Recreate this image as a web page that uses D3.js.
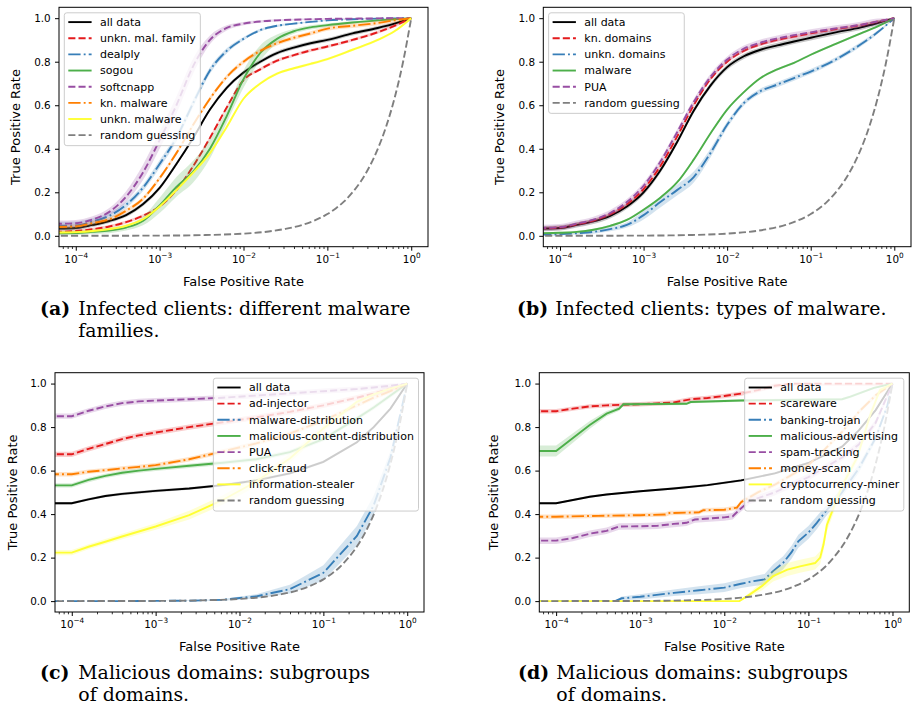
<!DOCTYPE html>
<html><head><meta charset="utf-8">
<script src="https://cdn.jsdelivr.net/npm/d3@7"></script>
<style>body{margin:0;background:#fff} svg{display:block;background:#fff}</style>
</head><body>
<svg id="c" width="912" height="707"></svg>
<script>
// ---------------- DATA (FPR given as log10 exponents, TPR as fractions) ----------------
// Panel (a)
const gridA = [-4.25,-4.0,-3.8,-3.6,-3.4,-3.2,-3.0,-2.8,-2.6,-2.4,-2.2,-2.0,-1.8,-1.6,-1.4,-1.2,-1.0,-0.7,-0.4,-0.2,0];
const aAllData   = [0.033,0.036,0.05,0.068,0.095,0.145,0.22,0.33,0.45,0.58,0.68,0.75,0.80,0.84,0.865,0.885,0.90,0.93,0.955,0.975,1.0];
const aUnknFam   = [0.018,0.022,0.03,0.043,0.063,0.092,0.135,0.21,0.32,0.45,0.59,0.715,0.765,0.805,0.83,0.852,0.87,0.9,0.935,0.965,1.0];
const aDealply   = [0.046,0.048,0.066,0.092,0.142,0.22,0.33,0.45,0.61,0.76,0.85,0.905,0.945,0.965,0.975,0.983,0.99,0.995,0.998,0.999,1.0];
const aSogou     = [0.012,0.013,0.018,0.024,0.038,0.068,0.14,0.225,0.295,0.40,0.55,0.72,0.84,0.905,0.94,0.958,0.968,0.98,0.99,0.995,1.0];
const aSoftcnapp = [0.055,0.058,0.075,0.11,0.18,0.29,0.44,0.60,0.78,0.90,0.955,0.975,0.985,0.99,0.993,0.995,0.997,0.998,0.999,1.0,1.0];
const aKnMalware = [0.04,0.043,0.058,0.076,0.115,0.17,0.265,0.38,0.51,0.63,0.73,0.80,0.85,0.885,0.91,0.93,0.952,0.965,0.978,0.99,1.0];
const aUnknMal   = [0.015,0.017,0.022,0.031,0.046,0.076,0.135,0.21,0.29,0.38,0.5,0.63,0.70,0.745,0.77,0.79,0.812,0.855,0.9,0.94,1.0];
const aSogouBand = [0.01,0.01,0.01,0.012,0.014,0.02,0.035,0.045,0.05,0.045,0.03,0.04,0.035,0.02,0.012,0.01,0.008,0.006,0.005,0.004,0];
const aSoftBand  = [0.015,0.015,0.015,0.018,0.025,0.035,0.04,0.04,0.035,0.02,0.012,0.008,0.006,0.005,0.004,0.003,0.003,0.002,0.002,0.001,0];
const aDealBand  = [0.018,0.018,0.015,0.015,0.015,0.015,0.018,0.018,0.018,0.015,0.012,0.008,0.006,0.005,0.004,0.003,0.003,0.002,0.002,0.001,0];
const aLabels = ['all data','unkn. mal. family','dealply','sogou','softcnapp','kn. malware','unkn. malware','random guessing'];

// Panel (b)
const gridB = [-4.25,-4.0,-3.8,-3.6,-3.4,-3.2,-3.0,-2.8,-2.6,-2.4,-2.2,-2.0,-1.8,-1.6,-1.4,-1.2,-1.0,-0.7,-0.4,-0.2,0];
const bAllData  = [0.033,0.036,0.05,0.066,0.092,0.135,0.2,0.3,0.43,0.575,0.69,0.775,0.825,0.855,0.875,0.893,0.91,0.935,0.958,0.978,1.0];
const bKnDom    = [0.035,0.038,0.053,0.07,0.1,0.145,0.215,0.32,0.455,0.6,0.72,0.8,0.85,0.88,0.9,0.915,0.93,0.95,0.968,0.984,1.0];
const bUnknDom  = [0.006,0.008,0.012,0.018,0.031,0.05,0.095,0.155,0.21,0.27,0.38,0.51,0.61,0.665,0.695,0.725,0.755,0.81,0.88,0.935,1.0];
const bMalware  = [0.012,0.014,0.018,0.028,0.046,0.073,0.12,0.175,0.245,0.35,0.47,0.58,0.66,0.725,0.765,0.795,0.832,0.882,0.93,0.962,1.0];
const bPUA      = [0.036,0.04,0.056,0.074,0.105,0.155,0.23,0.34,0.475,0.615,0.73,0.81,0.86,0.888,0.907,0.922,0.935,0.953,0.97,0.985,1.0];
const bUnknBand = [0.006,0.006,0.006,0.008,0.01,0.012,0.02,0.025,0.025,0.025,0.02,0.015,0.012,0.012,0.012,0.012,0.012,0.01,0.01,0.008,0];
const bLabels = ['all data','kn. domains','unkn. domains','malware','PUA','random guessing'];

// Panel (c)
const gridC = [-4.3,-4.0,-3.8,-3.6,-3.4,-3.2,-3.0,-2.6,-2.2,-1.8,-1.4,-1.0,-0.6,-0.4,-0.2,0];
const cAllData    = [0.45,0.45,0.468,0.483,0.493,0.5,0.507,0.518,0.533,0.555,0.587,0.64,0.73,0.8,0.885,1.0];
const cAdInjector = [0.675,0.675,0.70,0.722,0.745,0.762,0.775,0.8,0.822,0.845,0.87,0.9,0.935,0.954,0.977,1.0];
const cMalDist    = [0,0,0,0,0,0.0005,0.001,0.002,0.006,0.022,0.055,0.13,0.3,0.44,0.66,1.0];
const cMalContent = [0.532,0.532,0.557,0.576,0.59,0.6,0.608,0.622,0.636,0.652,0.685,0.745,0.84,0.89,0.945,1.0];
const cPUA        = [0.85,0.85,0.875,0.895,0.91,0.918,0.922,0.928,0.935,0.945,0.955,0.965,0.975,0.982,0.99,1.0];
const cClickFraud = [0.583,0.583,0.595,0.602,0.61,0.617,0.625,0.652,0.688,0.725,0.77,0.83,0.9,0.935,0.965,1.0];
const cInfoSteal  = [0.223,0.223,0.25,0.273,0.297,0.32,0.343,0.395,0.465,0.55,0.656,0.794,0.916,0.95,0.977,1.0];
const cMalDistBand = [0,0,0,0,0,0,0.001,0.002,0.004,0.01,0.02,0.035,0.045,0.045,0.03,0];
const cInfoBand    = [0.012,0.012,0.012,0.012,0.013,0.014,0.015,0.02,0.022,0.022,0.02,0.015,0.01,0.008,0.005,0];
const cLabels = ['all data','ad-injector','malware-distribution','malicious-content-distribution','PUA','click-fraud','information-stealer','random guessing'];

// Panel (d)
const dAllFpr   = [-4.3,-4.0,-3.8,-3.6,-3.4,-3.0,-2.6,-2.2,-1.8,-1.4,-1.0,-0.6,-0.4,-0.2,0];
const dAllData  = [0.45,0.45,0.465,0.48,0.49,0.505,0.518,0.533,0.555,0.587,0.635,0.71,0.785,0.878,1.0];
const dScareFpr = [-4.3,-4.0,-3.8,-3.6,-3.4,-3.0,-2.6,-2.4,-2.2,-2.0,-1.8,-1.6,-1.4,-1.2,0];
const dScareware= [0.873,0.873,0.885,0.895,0.9,0.905,0.913,0.928,0.934,0.943,0.954,0.97,0.99,1.0,1.0];
const dBankFpr  = [-4.3,-3.3,-3.22,-3.0,-2.6,-2.3,-2.0,-1.8,-1.65,-1.52,-1.42,-1.3,-1.2,-1.12,-1.0,-0.9,-0.8,-0.6,-0.4,-0.2,-0.06,0];
const dBanking  = [0,0,0.013,0.02,0.038,0.05,0.062,0.08,0.092,0.1,0.138,0.176,0.225,0.275,0.315,0.36,0.41,0.5,0.61,0.75,0.9,1.0];
const dBankBand = [0,0,0.008,0.012,0.015,0.018,0.02,0.02,0.022,0.025,0.03,0.03,0.03,0.03,0.03,0.03,0.025,0.02,0.02,0.015,0.01,0];
const dAdvFpr   = [-4.3,-4.0,-3.8,-3.6,-3.4,-3.25,-3.2,-2.45,-2.4,-1.8,-1.0,-0.6,-0.5,-0.22,0];
const dMalAdv   = [0.69,0.69,0.75,0.81,0.862,0.885,0.905,0.907,0.915,0.922,0.926,0.928,0.94,0.98,1.0];
const dAdvBand  = [0.025,0.025,0.022,0.018,0.012,0.01,0.008,0.006,0.006,0.006,0.006,0.006,0.006,0.005,0];
const dSpamFpr  = [-4.3,-4.0,-3.8,-3.6,-3.4,-3.25,-3.0,-2.8,-2.6,-2.45,-2.35,-2.0,-1.9,-1.82,-1.7,-1.4,-1.0,-0.6,-0.4,-0.2,0];
const dSpam     = [0.278,0.278,0.29,0.31,0.323,0.343,0.344,0.346,0.355,0.36,0.375,0.385,0.39,0.42,0.46,0.5,0.57,0.66,0.72,0.82,1.0];
const dMoneyFpr = [-4.3,-4.0,-3.5,-3.0,-2.7,-2.65,-2.3,-2.25,-2.0,-1.85,-1.8,-1.6,-1.4,-1.0,-0.8,-0.6,-0.4,-0.2,0];
const dMoney    = [0.388,0.388,0.392,0.395,0.398,0.405,0.408,0.418,0.42,0.43,0.455,0.5,0.535,0.625,0.7,0.778,0.87,0.946,1.0];
const dCryptoFpr= [-4.3,-1.82,-1.7,-1.55,-1.42,-1.25,-1.1,-0.92,-0.86,-0.82,-0.78,-0.7,-0.6,-0.42,-0.27,-0.15,0];
const dCrypto   = [0,0,0.03,0.07,0.115,0.145,0.16,0.175,0.2,0.26,0.35,0.43,0.53,0.66,0.85,0.97,1.0];
const dCryptoBand=[0,0,0.01,0.02,0.025,0.03,0.03,0.03,0.03,0.03,0.03,0.025,0.02,0.02,0.02,0.01,0];
const dLabels = ['all data','scareware','banking-trojan','malicious-advertising','spam-tracking','money-scam','cryptocurrency-miner','random guessing'];

// Random guessing (TPR = FPR), read at these points
const rgFpr = [-4.3,-3.0,-2.5,-2.0,-1.7,-1.5,-1.3,-1.15,-1.0,-0.9,-0.8,-0.7,-0.6,-0.5,-0.4,-0.3,-0.2,-0.1,0];
const rgTpr = [0.00005,0.001,0.0032,0.01,0.02,0.032,0.05,0.071,0.1,0.126,0.158,0.2,0.251,0.316,0.398,0.501,0.631,0.794,1.0];

// Axis ticks
const xMajorExp = [-4,-3,-2,-1,0];
const xTickSup  = ['\u22124','\u22123','\u22122','\u22121','0'];
const yTicks    = [0.0,0.2,0.4,0.6,0.8,1.0];

// Captions
const capTags  = ['(a)','(b)','(c)','(d)'];
const capLines = [['Infected clients: different malware','families.'],['Infected clients: types of malware.'],['Malicious domains: subgroups','of domains.'],['Malicious domains: subgroups','of domains.']];

// ---------------- STYLES ----------------
const ST = {
  black:{color:'#000000',dash:null},
  red:{color:'#e41a1c',dash:'dashed'},
  blue:{color:'#377eb8',dash:'dashdot'},
  green:{color:'#4daf4a',dash:null},
  purple:{color:'#984ea3',dash:'dashed'},
  orange:{color:'#ff7f00',dash:'dashdot'},
  yellow:{color:'#ffff33',dash:null},
  gray:{color:'#7f7f7f',dash:'dashed'}
};
const DASH = {dashed:'7.1,3.1', dashdot:'12.3,3.1,1.9,3.1'};
const LW = 1.9;
const SANS = "'DejaVu Sans', sans-serif";

const panels = [
  {id:'a', x0:59, x1:428, y0:7.3, y1:246.7, ylx:15, leg:'left', smooth:true, labels:aLabels, series:[
    {fpr:gridA,tpr:aAllData,band:0.009,st:'black'},
    {fpr:gridA,tpr:aUnknFam,band:0.007,st:'red'},
    {fpr:gridA,tpr:aDealply,band:aDealBand,st:'blue'},
    {fpr:gridA,tpr:aSogou,band:aSogouBand,st:'green'},
    {fpr:gridA,tpr:aSoftcnapp,band:aSoftBand,st:'purple'},
    {fpr:gridA,tpr:aKnMalware,band:0.01,st:'orange'},
    {fpr:gridA,tpr:aUnknMal,band:0.006,st:'yellow'}]},
  {id:'b', x0:543.3, x1:911, y0:7.3, y1:246.7, ylx:499, leg:'left', smooth:true, labels:bLabels, series:[
    {fpr:gridB,tpr:bAllData,band:0.012,st:'black'},
    {fpr:gridB,tpr:bKnDom,band:0.008,st:'red'},
    {fpr:gridB,tpr:bUnknDom,band:bUnknBand,st:'blue'},
    {fpr:gridB,tpr:bMalware,band:0.005,st:'green'},
    {fpr:gridB,tpr:bPUA,band:0.014,st:'purple'}]},
  {id:'c', x0:55, x1:424, y0:372.7, y1:612, ylx:12, leg:'right', smooth:false, labels:cLabels, series:[
    {fpr:gridC,tpr:cAllData,band:0.006,st:'black'},
    {fpr:gridC,tpr:cAdInjector,band:0.012,st:'red'},
    {fpr:gridC,tpr:cMalDist,band:cMalDistBand,st:'blue'},
    {fpr:gridC,tpr:cMalContent,band:0.01,st:'green'},
    {fpr:gridC,tpr:cPUA,band:0.012,st:'purple'},
    {fpr:gridC,tpr:cClickFraud,band:0.01,st:'orange'},
    {fpr:gridC,tpr:cInfoSteal,band:cInfoBand,st:'yellow'}]},
  {id:'d', x0:539.3, x1:909.3, y0:372.7, y1:612, ylx:493, leg:'right', smooth:false, labels:dLabels, series:[
    {fpr:dAllFpr,tpr:dAllData,band:0.005,st:'black'},
    {fpr:dScareFpr,tpr:dScareware,band:0.01,st:'red'},
    {fpr:dBankFpr,tpr:dBanking,band:dBankBand,st:'blue'},
    {fpr:dAdvFpr,tpr:dMalAdv,band:dAdvBand,st:'green'},
    {fpr:dSpamFpr,tpr:dSpam,band:0.015,st:'purple'},
    {fpr:dMoneyFpr,tpr:dMoney,band:0.01,st:'orange'},
    {fpr:dCryptoFpr,tpr:dCrypto,band:dCryptoBand,st:'yellow'}]}
];

const svg = d3.select('#c');
svg.append('rect').attr('width',912).attr('height',707).attr('fill','#fff');
const defs = svg.append('defs');

function styleLine(sel, key){
  const s = ST[key];
  sel.attr('fill','none').attr('stroke',s.color).attr('stroke-width',LW)
     .attr('stroke-dasharray', s.dash ? DASH[s.dash] : null);
}

panels.forEach(p => {
  const x = d3.scaleLog().domain([Math.pow(10,-4.2), Math.pow(10,0.2)]).range([p.x0,p.x1]);
  const y = d3.scaleLinear().domain([-0.05,1.05]).range([p.y1,p.y0]);
  const g = svg.append('g');
  const cid = 'clip-'+p.id;
  defs.append('clipPath').attr('id',cid).append('rect')
    .attr('x',p.x0).attr('y',p.y0).attr('width',p.x1-p.x0).attr('height',p.y1-p.y0);
  const plot = g.append('g').attr('clip-path',`url(#${cid})`);
  const curve = p.smooth ? d3.curveMonotoneX : d3.curveLinear;

  const all = p.series.concat([{fpr:rgFpr,tpr:rgTpr,band:0,st:'gray',rg:true}]);
  all.forEach(s => {
    const d = s.fpr.map((e,i)=>({x:Math.pow(10,e), y:s.tpr[i], h:Array.isArray(s.band)?s.band[i]:s.band}));
    const cv = s.rg ? d3.curveMonotoneX : curve;
    if (s.band) {
      plot.append('path').datum(d)
        .attr('d', d3.area().x(v=>x(v.x)).y0(v=>y(Math.max(0,v.y-v.h))).y1(v=>y(Math.min(1,v.y+v.h))).curve(cv))
        .attr('fill',ST[s.st].color).attr('fill-opacity',0.22).attr('stroke','none');
    }
    plot.append('path').datum(d)
      .attr('d', d3.line().x(v=>x(v.x)).y(v=>y(v.y)).curve(cv))
      .call(styleLine, s.st);
  });

  // Axes
  const yg = g.append('g').attr('transform',`translate(${p.x0},0)`)
    .call(d3.axisLeft(y).tickValues(yTicks).tickFormat(d3.format('.1f')).tickSize(4).tickPadding(4.3).tickSizeOuter(0));
  yg.select('.domain').remove();
  yg.attr('font-size',10.4).attr('font-family',SANS);
  yg.selectAll('.tick line').attr('stroke-width',1);

  const xMajor = xMajorExp.map(e=>Math.pow(10,e));
  const xg = g.append('g').attr('transform',`translate(0,${p.y1})`)
    .call(d3.axisBottom(x).tickValues(xMajor).tickFormat(()=>'').tickSize(4).tickSizeOuter(0));
  xg.select('.domain').remove();
  xg.attr('font-size',10.4).attr('font-family',SANS);
  xg.selectAll('.tick line').attr('stroke-width',1);
  xg.selectAll('.tick text').each(function(d,i){
    const t = d3.select(this).text(null).attr('y',16).attr('dy',null).attr('fill','#000');
    t.append('tspan').text('10');
    t.append('tspan').attr('font-size',7.3).attr('dy',-4.6).text(xTickSup[i]);
  });
  const minor = [];
  for (let k=-5;k<=0;k++) for (let m=2;m<=9;m++){ const v=m*Math.pow(10,k); if (Math.log10(v)>=-4.2 && Math.log10(v)<=0.2) minor.push(v); }
  const mg = g.append('g').attr('transform',`translate(0,${p.y1})`)
    .call(d3.axisBottom(x).tickValues(minor).tickFormat(()=>'').tickSize(2.3).tickSizeOuter(0));
  mg.select('.domain').remove();
  mg.selectAll('.tick line').attr('stroke-width',0.8);

  // Frame
  g.append('rect').attr('x',p.x0).attr('y',p.y0).attr('width',p.x1-p.x0).attr('height',p.y1-p.y0)
    .attr('fill','none').attr('stroke','#000').attr('stroke-width',1);

  // Axis labels
  g.append('text').attr('x',(p.x0+p.x1)/2).attr('y',p.y1+38.8).attr('text-anchor','middle')
    .attr('font-family',SANS).attr('font-size',13).text('False Positive Rate');
  g.append('text').attr('transform',`translate(${p.ylx},${(p.y0+p.y1)/2}) rotate(-90)`)
    .attr('text-anchor','middle').attr('dy','0.36em').attr('font-family',SANS).attr('font-size',13).text('True Positive Rate');

  // Legend
  const keys = p.series.map(s=>s.st).concat(['gray']);
  const lg = g.append('g');
  const rowH = 16.15, n = keys.length;
  const bh = 9.3 + (n-1)*rowH + 10.5;
  const box = lg.append('rect');
  const texts = [];
  const items = lg.append('g');
  keys.forEach((k,i)=>{
    const ry = 9.3 + i*rowH;
    items.append('line').attr('x1',4).attr('x2',27.3).attr('y1',ry).attr('y2',ry).call(styleLine,k);
    texts.push(items.append('text').attr('x',35.7).attr('y',ry).attr('dy','0.35em')
      .attr('font-family',SANS).attr('font-size',11).text(p.labels[i]));
  });
  const tw = d3.max(texts, t=>t.node().getComputedTextLength());
  const bw = 35.7 + tw + 4.6;
  box.attr('width',bw).attr('height',bh).attr('rx',2.5).attr('ry',2.5)
    .attr('fill','#fff').attr('fill-opacity',0.8).attr('stroke','#cccccc').attr('stroke-width',1);
  const lx = p.leg==='left' ? p.x0+5.3 : p.x1-5.5-bw;
  lg.attr('transform',`translate(${lx},${p.y0+5.5})`);
});

// Captions
const SERIF = "'DejaVu Serif', serif";
const tagX = [40,517,40,518], txtX = [78.3,555.3,78.3,556.3], baseY = [315,315,679,679];
let fs = 18.8;
const probe = svg.append('text').attr('font-family',SERIF).attr('font-size',fs).text(capLines[0][0]);
fs = fs * 332 / probe.node().getComputedTextLength();
probe.remove();
capTags.forEach((tag,i)=>{
  svg.append('text').attr('x',tagX[i]).attr('y',baseY[i]).attr('font-family',SERIF).attr('font-weight','bold')
    .attr('font-size',fs).text(tag);
  capLines[i].forEach((line,j)=>{
    svg.append('text').attr('x',txtX[i]).attr('y',baseY[i]+j*21.7).attr('font-family',SERIF)
      .attr('font-size',fs).text(line);
  });
});
</script>
</body></html>
